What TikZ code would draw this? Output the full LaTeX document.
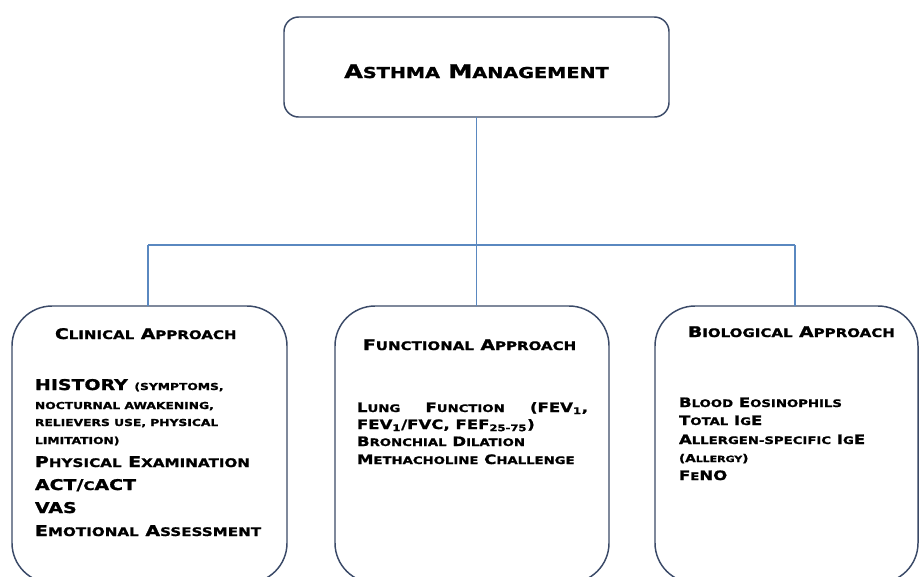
\documentclass[tikz,border=0pt]{standalone}
\usepackage{fontspec}
\usepackage{graphicx}
\newfontfamily\cpf{DejaVu Sans Bold}[FakeStretch=1.28,FakeBold=1.3]
\newcommand\smc[1]{\scalebox{0.8}{#1}}
\definecolor{boxc}{HTML}{3B4A68}
\definecolor{conc}{HTML}{5A88C0}
\begin{document}
\begin{tikzpicture}[x=0.75pt,y=-0.75pt,
  box/.style={draw=boxc, line width=1.1pt, inner sep=0pt, outer sep=0pt, rectangle},
  conn/.style={draw=conc, line width=0.9pt},
  txt/.style={inner sep=0pt, outer sep=0pt, anchor=base west, text=black},
  ttl/.style={txt, anchor=base, font=\cpf\fontsize{14.1}{16}\selectfont},
  hdr/.style={txt, font=\cpf\fontsize{11}{13}\selectfont},
  big/.style={txt, font=\cpf\fontsize{11.1}{13}\selectfont},
  par/.style={txt, font=\cpf\fontsize{7.2}{9}\selectfont},
  mid/.style={txt, font=\cpf\fontsize{9.7}{12}\selectfont}]
\useasboundingbox (0,0) rectangle (919,576);
\fill[white] (0,0) rectangle (919,576);

% boxes
\node[box, rounded corners=11pt, minimum width=288.75pt, minimum height=75pt] (top) at (476.5,67) {};
\node[box, rounded corners=30pt, minimum width=206.25pt, minimum height=207.75pt] (clin) at (149.5,444.5) {};
\node[box, rounded corners=30pt, minimum width=205.5pt, minimum height=207.75pt] (func) at (472,444.5) {};
\node[box, rounded corners=30pt, minimum width=197.25pt, minimum height=207.75pt] (bio) at (786.5,444.5) {};

% connectors
\coordinate (jL) at (148,245);
\coordinate (jR) at (795,245);
\coordinate (jM) at (top.south |- jL);
\draw[conn] (top.south) -- (jM);
\draw[conn] (jL) -- (jR);
\draw[conn] (jL) -- (jL |- clin.north);
\draw[conn] (jM) -- (jM |- func.north);
\draw[conn] (jR) -- (jR |- bio.north);

% title
\node[ttl] (title) at (476.5,78) {A\smc{STHMA} M\smc{ANAGEMENT}};

% clinical
\node[hdr] (ch) at (55,339) {C\smc{LINICAL} A\smc{PPROACH}};
\node[big] (c1) at (35,390) {HISTORY {\fontsize{7.2}{9}\selectfont (SYMPTOMS,}};
\node[par] (c2) at (35,409) {NOCTURNAL AWAKENING,};
\node[par] (c3) at (35,426) {RELIEVERS USE, PHYSICAL};
\node[par] (c4) at (35,444) {LIMITATION)};
\node[big] (c5) at (35,467) {P\smc{HYSICAL} E\smc{XAMINATION}};
\node[big] (c6) at (35,490) {ACT/\smc{C}ACT};
\node[big] (c7) at (35,513) {VAS};
\node[big] (c8) at (35,536) {E\smc{MOTIONAL} A\smc{SSESSMENT}};

% functional
\node[hdr] (fh) at (363,350) {F\smc{UNCTIONAL} A\smc{PPROACH}};
\node[mid] (f1) at (357,412) {\makebox[173.25pt][s]{L\smc{UNG} F\smc{UNCTION} (FEV\textsubscript{1},}};
\node[mid] (f2) at (357,429) {FEV\textsubscript{1}/FVC, FEF\textsubscript{25-75})};
\node[mid] (f3) at (357,446) {B\smc{RONCHIAL} D\smc{ILATION}};
\node[mid] (f4) at (357,464) {M\smc{ETHACHOLINE} C\smc{HALLENGE}};

% biological
\node[hdr] (bh) at (688,337) {B\smc{IOLOGICAL} A\smc{PPROACH}};
\node[mid] (b1) at (679,407) {B\smc{LOOD} E\smc{OSINOPHILS}};
\node[mid] (b2) at (679,425) {T\smc{OTAL} I\smc{G}E};
\node[mid] (b3) at (679,444) {A\smc{LLERGEN-SPECIFIC} I\smc{G}E};
\node[mid] (b4) at (679,462) {{\fontsize{8}{10}\selectfont (A\smc{LLERGY})}};
\node[mid] (b5) at (679,480) {F\smc{E}NO};
\end{tikzpicture}
\end{document}
